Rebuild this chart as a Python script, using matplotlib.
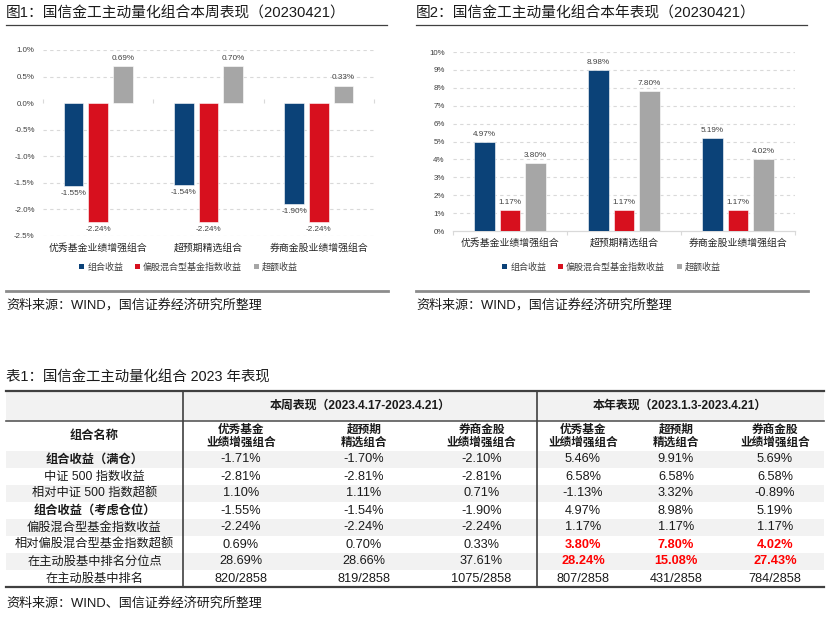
import numpy as np
import matplotlib
matplotlib.use('Agg')
import matplotlib.pyplot as plt
from matplotlib.patches import Patch, Rectangle

plt.rcParams['font.family'] = ['Liberation Sans', 'Noto Sans CJK SC', 'DejaVu Sans']

# ---------------- data ----------------
categories = ['优秀基金业绩增强组合', '超预期精选组合', '券商金股业绩增强组合']
series_names = ['组合收益', '偏股混合型基金指数收益', '超额收益']
week_portfolio = [-1.55, -1.54, -1.90]
week_index = [-2.24, -2.24, -2.24]
week_excess = [0.69, 0.70, 0.33]
year_portfolio = [4.97, 8.98, 5.19]
year_index = [1.17, 1.17, 1.17]
year_excess = [3.80, 7.80, 4.02]
week_yticks = [-2.5, -2.0, -1.5, -1.0, -0.5, 0.0, 0.5, 1.0]
year_yticks = [0, 1, 2, 3, 4, 5, 6, 7, 8, 9, 10]

title1 = '图1：国信金工主动量化组合本周表现（20230421）'
title2 = '图2：国信金工主动量化组合本年表现（20230421）'
source_chart = '资料来源：WIND，国信证券经济研究所整理'
table_title = '表1：国信金工主动量化组合 2023 年表现'
source_table = '资料来源：WIND、国信证券经济研究所整理'

table_group_labels = ['本周表现（2023.4.17-2023.4.21）', '本年表现（2023.1.3-2023.4.21）']
table_name_header = '组合名称'
table_col_labels = ['优秀基金\n业绩增强组合', '超预期\n精选组合', '券商金股\n业绩增强组合',
                    '优秀基金\n业绩增强组合', '超预期\n精选组合', '券商金股\n业绩增强组合']
table_row_labels = ['组合收益（满仓）', '中证 500 指数收益', '相对中证 500 指数超额',
                    '组合收益（考虑仓位）', '偏股混合型基金指数收益', '相对偏股混合型基金指数超额',
                    '在主动股基中排名分位点', '在主动股基中排名']
table_bold_rows = [0, 3]
table_week = [['-1.71%', '-1.70%', '-2.10%'],
              ['-2.81%', '-2.81%', '-2.81%'],
              ['1.10%', '1.11%', '0.71%'],
              ['-1.55%', '-1.54%', '-1.90%'],
              ['-2.24%', '-2.24%', '-2.24%'],
              ['0.69%', '0.70%', '0.33%'],
              ['28.69%', '28.66%', '37.61%'],
              ['820/2858', '819/2858', '1075/2858']]
table_year = [['5.46%', '9.91%', '5.69%'],
              ['6.58%', '6.58%', '6.58%'],
              ['-1.13%', '3.32%', '-0.89%'],
              ['4.97%', '8.98%', '5.19%'],
              ['1.17%', '1.17%', '1.17%'],
              ['3.80%', '7.80%', '4.02%'],
              ['28.24%', '15.08%', '27.43%'],
              ['807/2858', '431/2858', '784/2858']]
table_red_year_rows = [5, 6]

colors = ['#0b4278', '#d7101e', '#a6a6a6']

W, H = 828, 631
fig = plt.figure(figsize=(W / 100, H / 100), dpi=100)
fig.patch.set_facecolor('white')

# full-figure canvas in pixel coordinates (for titles, rules, table)
cv = fig.add_axes([0, 0, 1, 1])
cv.set_xlim(0, W)
cv.set_ylim(H, 0)
cv.axis('off')


def px_axes(left, top, right, bottom):
    return fig.add_axes([left / W, 1 - bottom / H, (right - left) / W, (bottom - top) / H])


def bar_chart(ax, data, yticks, fmt, tick_fmt):
    x = np.arange(len(categories))
    width = 0.177
    offs = [-0.223, 0.0, 0.223]
    for i, (vals, c) in enumerate(zip(data, colors)):
        bars = ax.bar(x + offs[i], vals, width, color=c, edgecolor='white', linewidth=0.4, zorder=3,
                      label=series_names[i])
        ax.bar_label(bars, labels=[fmt % v for v in vals], padding=3, fontsize=5.9, color='#404040')
    ax.set_xlim(-0.5, len(categories) - 0.5)
    ax.set_ylim(yticks[0], yticks[-1])
    ax.set_yticks(yticks)
    ax.set_yticklabels([tick_fmt % t for t in yticks], fontsize=5.7, color='#404040')
    for t in yticks:
        if t != 0:
            ax.axhline(t, color='#d9d9d9', lw=0.8, ls=(0, (3, 3)), zorder=1)
    ax.set_xticks(x)
    ax.set_xticklabels(categories, fontsize=7.1, color='#262626')
    ax.tick_params(axis='both', length=0)
    ax.tick_params(axis='y', pad=6)
    ax.tick_params(axis='x', pad=5)
    for s in ['left', 'right', 'top', 'bottom']:
        ax.spines[s].set_visible(False)
    # zero axis with category boundary ticks
    loc = (0 - yticks[0]) / (yticks[-1] - yticks[0])
    sec = ax.secondary_xaxis(loc)
    sec.set_xticks(np.arange(-0.5, len(categories), 1.0))
    sec.set_xticklabels([])
    sec.tick_params(axis='x', length=3, color='#d9d9d9', width=0.8, direction='out')
    sec.spines['bottom'].set_color('#d9d9d9')
    sec.spines['bottom'].set_linewidth(0.9)
    for s in ['left', 'right', 'top']:
        if s in sec.spines:
            sec.spines[s].set_visible(False)


ax1 = px_axes(43, 50, 374, 236)
bar_chart(ax1, [week_portfolio, week_index, week_excess], week_yticks, '%.2f%%', '%.1f%%')
ax2 = px_axes(453, 52, 795, 231)
bar_chart(ax2, [year_portfolio, year_index, year_excess], year_yticks, '%.2f%%', '%d%%')

handles = [Patch(facecolor=c, edgecolor='none') for c in colors]
for cx in [188.5, 611.5]:
    fig.legend(handles, series_names, loc='center', bbox_to_anchor=(cx / W, 1 - 267 / H), ncol=3,
               frameon=False, fontsize=6.5, handlelength=0.55, handleheight=0.55, handletextpad=0.35,
               columnspacing=1.3, labelcolor='#404040')

# chart titles, rules, sources
for x0, x1, t in [(6, 387, title1), (416, 807, title2)]:
    cv.text(x0, 13, t, fontsize=10.6, color='#1a1a1a', va='center', ha='left')
    cv.plot([x0, x1], [24.5, 24.5], color='#404040', lw=0.9)
    cv.plot([x0, x1 + 1], [291, 291], color='#8c8c8c', lw=2.0)
    cv.text(x0, 305, source_chart, fontsize=9.4, color='#1a1a1a', va='center', ha='left')

# ---------------- table ----------------
cv.text(6, 378, table_title, fontsize=10.4, color='#1a1a1a', va='center', ha='left')
tx0, tx1 = 6, 824
vx1, vx2 = 183, 537
y_top, y_h1, y_h2 = 391, 421, 451
row_h = 17
n_rows = len(table_row_labels)
y_bot = y_h2 + row_h * n_rows
shade = '#f2f2f2'

cv.add_patch(Rectangle((tx0, y_top), tx1 - tx0, y_h1 - y_top, facecolor=shade, edgecolor='none'))
for r in range(n_rows):
    if r % 2 == 0:
        cv.add_patch(Rectangle((tx0, y_h2 + r * row_h), tx1 - tx0, row_h, facecolor=shade, edgecolor='none'))

cv.plot([tx0, tx1], [y_top, y_top], color='#404040', lw=1.6)
cv.plot([tx0, tx1], [y_h1, y_h1], color='#595959', lw=1.2)
cv.plot([tx0, tx1], [y_bot, y_bot], color='#404040', lw=1.6)
for vx in [vx1, vx2]:
    cv.plot([vx, vx], [y_top, y_bot], color='#404040', lw=1.2)

label_cx = (tx0 + vx1) / 2
col_cx = [241, 364, 481.5, 583, 676, 775]
group_cx = [(vx1 + vx2) / 2, 680]

for cx, g in zip(group_cx, table_group_labels):
    cv.text(cx, (y_top + y_h1) / 2, g, fontsize=8.6, fontweight='bold', ha='center', va='center', color='#1a1a1a')
cv.text(label_cx, (y_h1 + y_h2) / 2, table_name_header, fontsize=8.8, fontweight='bold', ha='center',
        va='center', color='#1a1a1a')
for cx, lab in zip(col_cx, table_col_labels):
    cv.text(cx, (y_h1 + y_h2) / 2 + 0.5, lab, fontsize=8.4, fontweight='bold', ha='center', va='center',
            linespacing=1.15, color='#1a1a1a')

for r, lab in enumerate(table_row_labels):
    yc = y_h2 + r * row_h + row_h / 2
    cv.text(label_cx, yc, lab, fontsize=8.8, ha='center', va='center', color='#1a1a1a',
            fontweight='bold' if r in table_bold_rows else 'normal')
    vals = table_week[r] + table_year[r]
    for c, (cx, v) in enumerate(zip(col_cx, vals)):
        red = (c >= 3 and r in table_red_year_rows)
        cv.text(cx, yc, v, fontsize=9.2, ha='center', va='center',
                color='#ff0000' if red else '#1a1a1a', fontweight='bold' if red else 'normal')

cv.text(6, 603, source_table, fontsize=9.4, color='#1a1a1a', va='center', ha='left')

fig.savefig('out.png', dpi=100, facecolor='white')
